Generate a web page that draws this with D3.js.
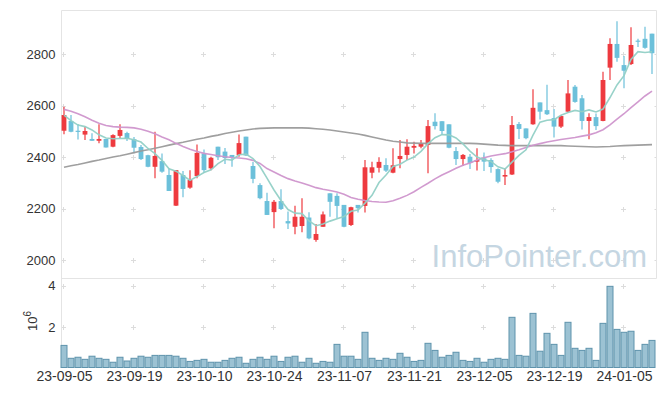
<!DOCTYPE html>
<html lang="ko">
<head>
<meta charset="UTF-8">
<script src="https://d3js.org/d3.v7.min.js"></script>
<title>candles</title>
<style>
  body { margin: 0; background: #fff; }
  text { font-family: "Liberation Sans", Arial, sans-serif; }
</style>
</head>
<body>
<div id="chart"></div>
<script>
const dates = ["23-09-05","23-09-06","23-09-07","23-09-08","23-09-11","23-09-12","23-09-13","23-09-14","23-09-15","23-09-18",
  "23-09-19","23-09-20","23-09-21","23-09-22","23-09-25","23-09-26","23-09-27","23-10-04","23-10-05","23-10-06",
  "23-10-10","23-10-11","23-10-12","23-10-13","23-10-16","23-10-17","23-10-18","23-10-19","23-10-20","23-10-23",
  "23-10-24","23-10-25","23-10-26","23-10-27","23-10-30","23-10-31","23-11-01","23-11-02","23-11-03","23-11-06",
  "23-11-07","23-11-08","23-11-09","23-11-10","23-11-13","23-11-14","23-11-15","23-11-16","23-11-17","23-11-20",
  "23-11-21","23-11-22","23-11-23","23-11-24","23-11-27","23-11-28","23-11-29","23-11-30","23-12-01","23-12-04",
  "23-12-05","23-12-06","23-12-07","23-12-08","23-12-11","23-12-12","23-12-13","23-12-14","23-12-15","23-12-18",
  "23-12-19","23-12-20","23-12-21","23-12-22","23-12-26","23-12-27","23-12-28","24-01-02","24-01-03","24-01-04",
  "24-01-05","24-01-08","24-01-09","24-01-10","24-01-11"];

const opens = [2502,2540,2502,2487,2470,2463,2470,2440,2482,2493,
  2469,2439,2407,2362,2384,2330,2211,2330,2281,2326,
  2414,2356,2440,2421,2408,2408,2479,2365,2291,2229,
  2186,2229,2151,2129,2132,2165,2078,2129,2259,2249,
  2214,2136,2214,2210,2339,2358,2369,2339,2392,2408,
  2436,2440,2447,2537,2539,2527,2423,2392,2401,2382,
  2395,2388,2353,2324,2332,2528,2511,2527,2612,2582,
  2551,2518,2576,2673,2628,2540,2555,2540,2747,2839,
  2757,2761,2852,2859,2879];
const highs = [2595,2563,2528,2518,2492,2527,2470,2488,2527,2498,
  2478,2447,2409,2498,2414,2356,2350,2346,2349,2449,
  2429,2401,2440,2435,2408,2487,2479,2381,2298,2261,
  2233,2275,2188,2211,2240,2185,2140,2188,2259,2259,
  2214,2207,2214,2388,2382,2399,2395,2434,2466,2469,
  2459,2466,2544,2570,2539,2527,2439,2412,2412,2434,
  2417,2395,2356,2356,2559,2536,2511,2663,2612,2681,
  2586,2563,2699,2680,2641,2570,2569,2731,2861,2927,
  2792,2904,2859,2906,2879];
const lows = [2488,2496,2468,2466,2463,2453,2437,2438,2474,2462,
  2415,2388,2360,2317,2339,2268,2210,2244,2277,2317,
  2338,2349,2388,2373,2362,2401,2404,2298,2236,2175,
  2123,2194,2120,2100,2108,2081,2071,2129,2168,2162,
  2127,2132,2184,2184,2317,2340,2342,2337,2356,2388,
  2414,2434,2337,2507,2485,2434,2369,2365,2353,2348,
  2346,2339,2298,2291,2330,2470,2469,2525,2546,2563,
  2476,2513,2571,2611,2507,2469,2505,2539,2699,2770,
  2667,2757,2827,2820,2722];
const closes = [2563,2498,2499,2501,2463,2470,2437,2485,2505,2470,
  2436,2392,2362,2404,2343,2268,2349,2276,2311,2416,
  2349,2397,2399,2396,2399,2454,2406,2315,2240,2175,
  2226,2198,2142,2168,2168,2084,2101,2177,2226,2210,
  2129,2205,2201,2360,2360,2381,2347,2368,2404,2440,
  2443,2453,2520,2520,2501,2436,2392,2408,2377,2388,
  2382,2361,2304,2330,2524,2509,2473,2591,2576,2566,
  2518,2559,2647,2614,2540,2555,2520,2699,2839,2785,
  2735,2835,2849,2824,2803];
// volume, millions of shares
const volumes = [1.13,0.51,0.56,0.46,0.61,0.51,0.46,0.32,0.56,0.38,
  0.51,0.61,0.56,0.65,0.65,0.65,0.61,0.51,0.36,0.41,
  0.46,0.32,0.32,0.41,0.51,0.56,0.27,0.46,0.56,0.46,
  0.61,0.36,0.56,0.61,0.32,0.51,0.27,0.36,0.32,1.18,
  0.61,0.61,0.46,1.76,0.51,0.41,0.51,0.46,0.75,0.56,
  0.36,0.41,1.23,0.89,0.56,0.65,0.80,0.41,0.36,0.51,
  0.32,0.46,0.51,0.46,2.48,0.65,0.61,2.67,0.85,1.71,
  1.18,0.65,2.24,0.99,0.89,0.99,0.41,2.19,3.97,1.90,
  1.76,1.81,0.89,1.18,1.37];
// moving averages
const ma5 = [2563,2541,2524,2518,2505,2486,2474,2471,2472,2473,
  2467,2458,2433,2413,2387,2354,2345,2328,2309,2324,
  2340,2350,2374,2391,2388,2409,2411,2394,2363,2318,
  2272,2231,2196,2182,2180,2152,2133,2140,2151,2160,
  2169,2189,2194,2221,2251,2301,2330,2363,2372,2388,
  2400,2422,2452,2475,2487,2486,2474,2451,2423,2400,
  2389,2383,2362,2353,2380,2406,2428,2485,2535,2543,
  2545,2562,2573,2581,2576,2583,2575,2586,2631,2680,
  2716,2779,2809,2806,2809];
const ma20 = [2585,2578,2568,2556,2543,2531,2522,2518,2516,2515,
  2513,2508,2500,2490,2478,2467,2453,2441,2430,2421,
  2414,2410,2405,2401,2398,2396,2393,2387,2375,2355,
  2342,2328,2316,2307,2299,2290,2281,2275,2270,2264,
  2255,2243,2236,2231,2227,2225,2224,2230,2240,2251,
  2265,2282,2298,2315,2330,2343,2356,2368,2377,2388,
  2397,2404,2409,2413,2420,2428,2437,2446,2452,2458,
  2463,2468,2472,2476,2481,2486,2494,2506,2525,2547,
  2568,2592,2614,2637,2656];
const ma60 = [2360,2366,2371,2377,2383,2388,2394,2400,2405,2411,
  2417,2423,2428,2434,2440,2446,2452,2457,2463,2469,
  2474,2480,2485,2491,2496,2501,2505,2509,2511,2512,
  2513,2513,2513,2513,2513,2512,2510,2508,2505,2501,
  2497,2493,2489,2484,2478,2472,2466,2461,2458,2455,
  2454,2453,2453,2453,2453,2453,2453,2453,2453,2452,
  2450,2448,2446,2445,2444,2444,2444,2444,2444,2444,
  2444,2444,2443,2442,2441,2440,2439,2440,2441,2443,
  2444,2445,2446,2447,2448];

const priceTicks = [2000, 2200, 2400, 2600, 2800];
const volTicks = [2, 4];
const dateTicks = d3.range(0, dates.length, 10);

const W = 665, H = 396;
const plotL = 61.5, plotR = 656.5, plotT = 10.5, plotMid = 278.5, plotB = 367.5;
const upColor = "#ee3a3f", downColor = "#6cc0da";

const svg = d3.select("#chart").append("svg").attr("width", W).attr("height", H);

const x = d3.scaleLinear().domain([-0.5, dates.length - 0.5]).range([60.5, 655.5]);
const y = d3.scaleLinear().domain([2000, 2800]).range([260, 54]);
const yv = d3.scaleLinear().domain([2, 4]).range([327.3, 285.7]);
const step = x(1) - x(0);

// plus-shaped grid marks
const grid = svg.append("g").attr("stroke", "#dcdcdc").attr("stroke-width", 1);
function plus(cx, cy) {
  grid.append("line").attr("x1", cx - 2.5).attr("x2", cx + 2.5).attr("y1", cy).attr("y2", cy);
  grid.append("line").attr("x1", cx).attr("x2", cx).attr("y1", cy - 2.5).attr("y2", cy + 2.5);
}
dateTicks.forEach(i => {
  const cx = Math.round(x(i)) - 0.5;
  priceTicks.forEach(v => plus(cx, Math.round(y(v)) + 0.5));
  volTicks.forEach(v => plus(cx, Math.round(yv(v)) + 0.5));
});
priceTicks.forEach(v => grid.append("line").attr("x1", plotR - 2).attr("x2", plotR)
  .attr("y1", Math.round(y(v)) + 0.5).attr("y2", Math.round(y(v)) + 0.5));

// frame
const frame = svg.append("g").attr("stroke", "#e4e4e4").attr("stroke-width", 1).attr("fill", "none");
frame.append("path").attr("d", `M${plotL},${plotB}V${plotT}H${plotR}V${plotMid}`);
frame.append("line").attr("x1", plotL).attr("x2", plotR).attr("y1", plotMid).attr("y2", plotMid);

// watermark
svg.append("text").attr("x", 647).attr("y", 267).attr("text-anchor", "end")
  .attr("font-size", 31).attr("fill", "#c5d6e2").text("InfoPointer.com");

// volume bars
svg.append("g").selectAll("rect").data(volumes).join("rect")
  .attr("x", (d, i) => x(i) - step / 2 + 0.5)
  .attr("y", d => yv(d))
  .attr("width", step - 1)
  .attr("height", d => plotB - yv(d))
  .attr("fill", "#9cc2d3")
  .attr("stroke", "#5e93ac")
  .attr("stroke-width", 1);

// candles
const candles = svg.append("g").selectAll("g").data(closes).join("g")
  .attr("fill", (c, i) => c >= opens[i] ? upColor : downColor)
  .attr("stroke", (c, i) => c >= opens[i] ? upColor : downColor);
candles.append("line")
  .attr("x1", (c, i) => x(i)).attr("x2", (c, i) => x(i))
  .attr("y1", (c, i) => y(highs[i])).attr("y2", (c, i) => y(lows[i]))
  .attr("stroke-width", 1.2);
candles.append("rect")
  .attr("x", (c, i) => x(i) - 2.4)
  .attr("width", 4.8)
  .attr("y", (c, i) => y(Math.max(c, opens[i])))
  .attr("height", (c, i) => Math.max(1.2, Math.abs(y(c) - y(opens[i]))))
  .attr("stroke", "none");

// moving averages
const line = d3.line().x((d, i) => x(i)).y(d => y(d));
[[ma60, "#9a9a9a"], [ma20, "#cf95cc"], [ma5, "#92d0c6"]].forEach(([s, c]) => {
  svg.append("path").attr("d", line(s)).attr("fill", "none")
    .attr("stroke", c).attr("stroke-width", 1.6).attr("stroke-opacity", 0.95);
});

// axes
function styleAxis(g, size) {
  g.select(".domain").remove();
  g.attr("font-family", "'Liberation Sans', Arial, sans-serif").attr("font-size", size);
  g.selectAll("text").attr("fill", "#333");
}
svg.append("g").attr("transform", `translate(${plotL},0)`)
  .call(d3.axisLeft(y).tickValues(priceTicks).tickSize(0).tickPadding(6).tickFormat(d3.format("d")))
  .call(g => styleAxis(g, 13));
svg.append("g").attr("transform", `translate(${plotL},0)`)
  .call(d3.axisLeft(yv).tickValues(volTicks).tickSize(0).tickPadding(6).tickFormat(d3.format("d")))
  .call(g => styleAxis(g, 13));
svg.append("g").attr("transform", `translate(0,${plotB})`)
  .call(d3.axisBottom(x).tickValues(dateTicks).tickSize(0).tickPadding(4).tickFormat(i => dates[i]))
  .call(g => styleAxis(g, 14));

// volume unit label
const unit = svg.append("text").attr("transform", "translate(37,321) rotate(-90)")
  .attr("text-anchor", "middle").attr("font-size", 13).attr("fill", "#333");
unit.append("tspan").text("10");
unit.append("tspan").attr("dy", -6).attr("font-size", 10).text("6");
</script>
</body>
</html>
